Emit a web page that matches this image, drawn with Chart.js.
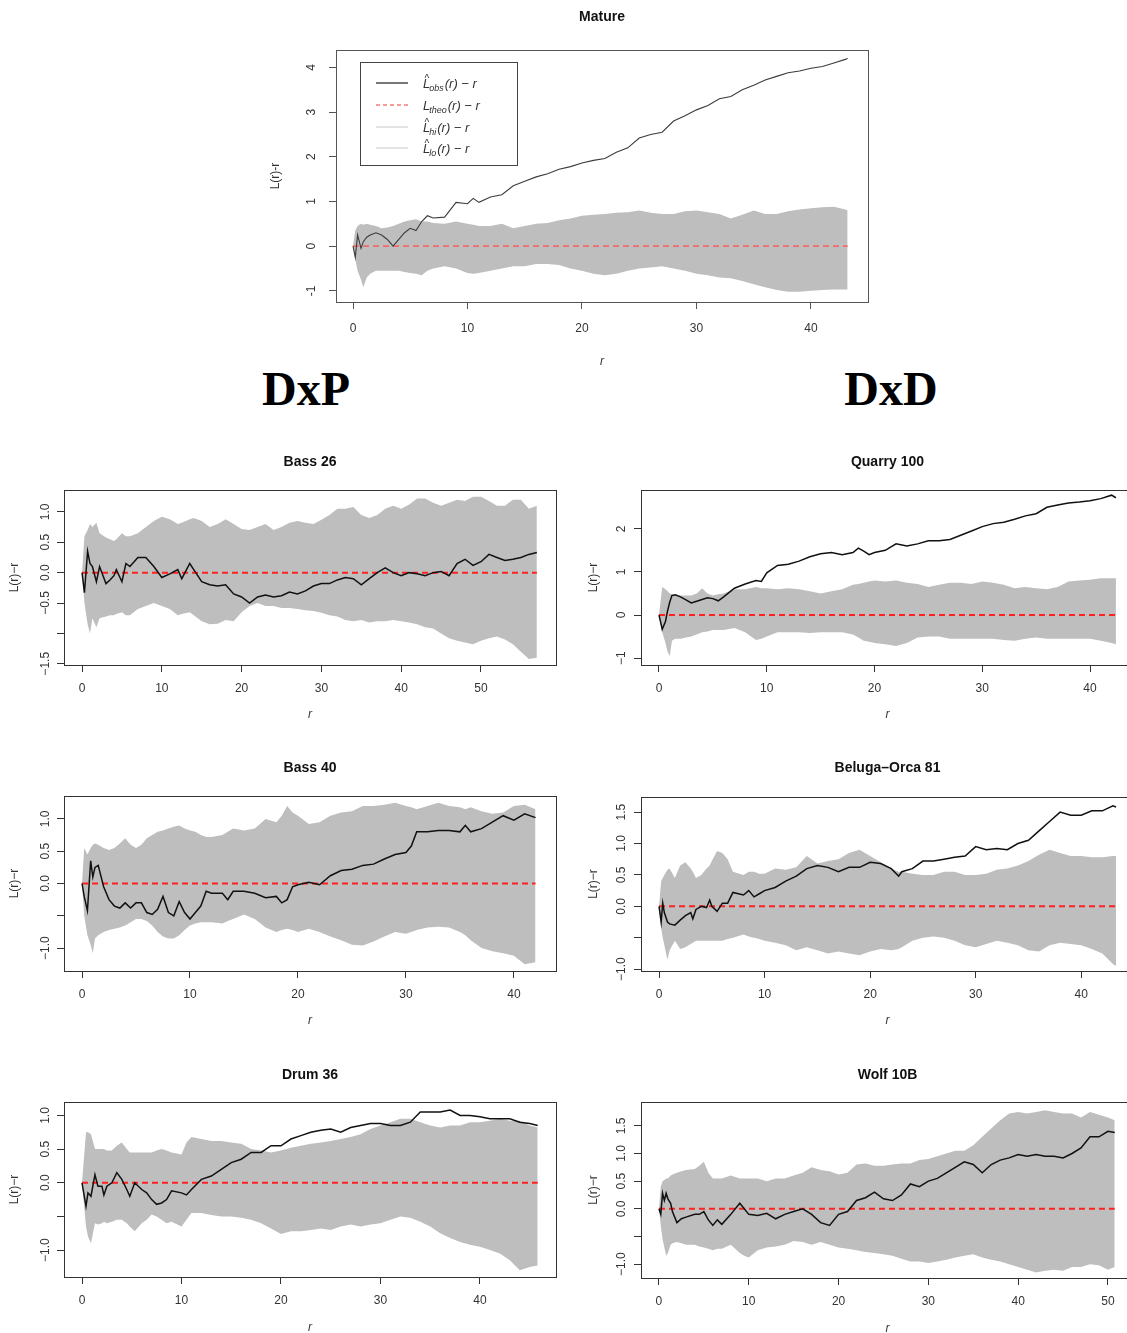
<!DOCTYPE html>
<html>
<head>
<meta charset="utf-8">
<title>L(r)-r envelopes</title>
<script src="https://cdn.jsdelivr.net/npm/chart.js@4.4.1/dist/chart.umd.min.js"></script>
<style>
  body { margin: 0; width: 1127px; height: 1333px; overflow: hidden; background: #fff; position: relative; }
  canvas { position: absolute; }
  .grp { position: absolute; top: 365px; width: 300px; text-align: center;
         font: bold 48px/48px "Liberation Serif", "Times New Roman", serif; color: #000; }
</style>
</head>
<body>
<div class="grp" style="left:156px">DxP</div>
<div class="grp" style="left:741px">DxD</div>

<script>
// === DATA ===
// Mature
const matureR = [0,0.2,0.4,0.7,0.9,1.2,1.5,2,2.5,3,3.5,4,4.5,5,5.5,6,6.5,7,8,9,10,10.5,11,
  12,13,14,15,16,17,18,19,20,21,22,23,24,25,26,27,28,29,30,31,32,33,34,35,36,37,38,39,40,41,42,43,43.2];
const matureObs = [0,-0.25,0.25,-0.05,0.1,0.2,0.25,0.3,0.25,0.15,0.0,0.15,0.3,0.4,0.35,0.55,0.68,0.63,0.65,0.98,0.95,1.07,0.98,
  1.1,1.15,1.35,1.45,1.55,1.62,1.72,1.78,1.86,1.92,1.96,2.1,2.2,2.42,2.5,2.55,2.8,2.92,3.05,3.15,3.3,3.35,3.5,3.6,3.72,3.8,3.88,3.92,3.98,4.02,4.1,4.18,4.2];
const matureHi = [0,0.35,0.45,0.5,0.48,0.5,0.48,0.45,0.4,0.42,0.45,0.5,0.55,0.58,0.6,0.55,0.55,0.52,0.5,0.55,0.5,0.48,0.45,
  0.45,0.5,0.4,0.45,0.5,0.52,0.58,0.62,0.68,0.7,0.72,0.75,0.76,0.8,0.75,0.72,0.72,0.78,0.8,0.76,0.72,0.62,0.7,0.8,0.72,0.72,0.78,0.82,0.85,0.87,0.88,0.82,0.8];
const matureLo = [0,-0.3,-0.55,-0.75,-0.92,-0.7,-0.62,-0.55,-0.55,-0.55,-0.55,-0.55,-0.58,-0.6,-0.62,-0.65,-0.55,-0.5,-0.45,-0.5,-0.6,-0.62,-0.6,
  -0.55,-0.5,-0.45,-0.45,-0.4,-0.4,-0.42,-0.5,-0.55,-0.62,-0.65,-0.62,-0.55,-0.5,-0.48,-0.45,-0.5,-0.55,-0.62,-0.65,-0.7,-0.72,-0.78,-0.85,-0.92,-0.98,-1.02,-1.02,-1.0,-0.98,-0.97,-0.97,-0.97];
const matureXTicks = [0,10,20,30,40];
const matureYTicks = [-1,0,1,2,3,4];
const matureYLabels = ['-1','0','1','2','3','4'];

// Bass 26
const bass26R = [0,0.3,0.7,1,1.3,1.8,2.2,3,3.5,4,4.3,5,5.5,6,7,8,9,10,11,12,12.5,13.5,
  14,15,16,17,18,19,20,21,22,23,24,25,26,27,28,29,30,31,32,33,34,35,36,37,38,39,40,41,42,43,44,45,46,47,48,49,50,51,52,53,54,55,56,57];
const bass26Obs = [0,-0.33,0.35,0.15,0.1,-0.15,0.1,-0.18,-0.12,-0.05,0.05,-0.15,0.15,0.1,0.25,0.25,0.1,-0.08,-0.02,0.05,-0.1,0.15,
  0.05,-0.15,-0.2,-0.22,-0.2,-0.35,-0.4,-0.5,-0.4,-0.37,-0.4,-0.38,-0.32,-0.35,-0.3,-0.22,-0.18,-0.18,-0.12,-0.08,-0.1,-0.2,-0.1,0.0,0.08,0.0,-0.05,0.0,-0.02,-0.05,0.0,0.02,-0.05,0.15,0.22,0.12,0.18,0.3,0.25,0.2,0.22,0.25,0.3,0.33];
const bass26Hi = [0,0.6,0.7,0.8,0.75,0.82,0.65,0.58,0.55,0.52,0.55,0.65,0.6,0.6,0.65,0.75,0.85,0.92,0.88,0.8,0.82,0.88,
  0.9,0.85,0.75,0.8,0.88,0.8,0.72,0.7,0.75,0.8,0.7,0.75,0.82,0.85,0.82,0.8,0.87,0.95,1.05,1.05,1.08,0.95,0.9,0.95,1.05,1.1,1.05,1.12,1.22,1.22,1.15,1.1,1.15,1.2,1.18,1.25,1.25,1.18,1.1,1.1,1.2,1.2,1.05,1.1];
const bass26Lo = [0,-0.5,-0.85,-1.0,-0.75,-0.9,-0.75,-0.72,-0.7,-0.7,-0.68,-0.65,-0.7,-0.7,-0.6,-0.55,-0.5,-0.55,-0.6,-0.7,-0.68,-0.65,
  -0.7,-0.8,-0.85,-0.84,-0.78,-0.8,-0.65,-0.55,-0.5,-0.55,-0.55,-0.58,-0.58,-0.6,-0.62,-0.63,-0.66,-0.7,-0.72,-0.78,-0.8,-0.78,-0.82,-0.8,-0.8,-0.78,-0.8,-0.82,-0.85,-0.9,-0.92,-1.0,-1.08,-1.12,-1.15,-1.18,-1.12,-1.08,-1.05,-1.1,-1.18,-1.3,-1.42,-1.4];
const bass26XTicks = [0,10,20,30,40,50];
const bass26YTicks = [-1.5,-1,-0.5,0,0.5,1];
const bass26YLabels = ['\u22121.5','','\u22120.5','0.0','0.5','1.0'];

// Quarry 100
const quarryR = [0,0.3,0.6,0.8,1,1.2,1.5,2,2.5,3,3.5,4,4.5,5,5.5,6,7,8,9,9.5,10,
  11,12,13,14,15,16,17,18,18.5,19,19.5,
  20,21,22,23,24,25,26,27,28,29,30,31,32,33,34,35,36,37,38,39,40,41,42,42.4];
const quarryObs = [0,-0.33,-0.15,0.1,0.3,0.45,0.47,0.42,0.35,0.28,0.32,0.36,0.4,0.38,0.33,0.42,0.62,0.72,0.8,0.78,0.98,
  1.15,1.18,1.25,1.35,1.42,1.45,1.4,1.45,1.55,1.48,1.4,
  1.45,1.5,1.65,1.6,1.65,1.72,1.72,1.75,1.85,1.95,2.05,2.12,2.15,2.22,2.3,2.35,2.5,2.55,2.6,2.62,2.65,2.7,2.78,2.72];
const quarryHi = [0,0.65,0.6,0.55,0.5,0.48,0.48,0.45,0.45,0.45,0.5,0.62,0.5,0.45,0.48,0.5,0.6,0.6,0.65,0.62,0.62,
  0.6,0.62,0.6,0.55,0.5,0.55,0.6,0.7,0.72,0.75,0.78,
  0.8,0.78,0.8,0.75,0.72,0.65,0.7,0.75,0.75,0.72,0.78,0.75,0.7,0.62,0.65,0.62,0.6,0.65,0.78,0.8,0.82,0.85,0.85,0.85];
const quarryLo = [0,-0.4,-0.65,-0.85,-0.95,-0.6,-0.55,-0.55,-0.52,-0.5,-0.45,-0.4,-0.38,-0.35,-0.35,-0.35,-0.3,-0.4,-0.58,-0.55,-0.5,
  -0.4,-0.4,-0.4,-0.42,-0.4,-0.4,-0.4,-0.45,-0.52,-0.6,-0.62,
  -0.65,-0.68,-0.72,-0.65,-0.52,-0.5,-0.5,-0.55,-0.55,-0.55,-0.55,-0.55,-0.58,-0.6,-0.55,-0.52,-0.55,-0.55,-0.55,-0.55,-0.55,-0.6,-0.65,-0.68];
const quarryXTicks = [0,10,20,30,40];
const quarryYTicks = [-1,0,1,2];
const quarryYLabels = ['\u22121','0','1','2'];

// Bass 40
const bass40R = [0,0.2,0.5,0.8,1,1.2,1.5,
  2,2.5,3,3.5,4,4.5,5,5.5,6,6.5,7,7.5,8,8.5,9,9.5,10,10.5,11,11.5,
  12,13,13.5,14,15,16,17,18,18.5,19,19.5,
  20,21,22,23,24,25,26,27,28,29,30,30.5,31,32,33,34,35,35.5,36,37,38,39,40,41,42];
const bass40Obs = [0,-0.2,-0.42,0.35,0.1,0.25,0.28,
  -0.05,-0.25,-0.35,-0.38,-0.3,-0.38,-0.3,-0.3,-0.45,-0.48,-0.4,-0.2,-0.45,-0.5,-0.28,-0.45,-0.55,-0.45,-0.35,-0.12,
  -0.15,-0.15,-0.25,-0.12,-0.12,-0.15,-0.22,-0.2,-0.3,-0.25,-0.05,
  -0.02,0.02,-0.02,0.12,0.2,0.22,0.28,0.3,0.38,0.45,0.48,0.58,0.8,0.8,0.82,0.82,0.8,0.9,0.8,0.85,0.95,1.05,0.98,1.08,1.02];
const bass40Hi = [0,0.55,0.45,0.55,0.6,0.62,0.6,
  0.55,0.52,0.55,0.62,0.7,0.6,0.55,0.6,0.7,0.75,0.8,0.82,0.85,0.88,0.9,0.85,0.82,0.8,0.75,0.72,
  0.72,0.75,0.8,0.85,0.82,0.85,1.0,0.95,1.05,1.2,1.1,
  1.05,0.92,0.95,1.05,1.1,1.12,1.2,1.2,1.22,1.25,1.2,1.18,1.15,1.2,1.25,1.2,1.18,1.15,1.18,1.12,1.08,1.1,1.2,1.22,1.15];
const bass40Lo = [0,-0.5,-0.8,-0.95,-1.08,-0.85,-0.8,
  -0.75,-0.72,-0.7,-0.68,-0.65,-0.6,-0.55,-0.55,-0.58,-0.65,-0.75,-0.82,-0.85,-0.85,-0.8,-0.72,-0.65,-0.62,-0.6,-0.6,
  -0.6,-0.62,-0.58,-0.55,-0.48,-0.55,-0.68,-0.75,-0.72,-0.7,-0.72,
  -0.75,-0.7,-0.75,-0.82,-0.88,-0.95,-0.96,-0.9,-0.82,-0.75,-0.78,-0.75,-0.72,-0.68,-0.67,-0.68,-0.75,-0.8,-0.88,-1.0,-1.05,-1.08,-1.12,-1.25,-1.22];
const bass40XTicks = [0,10,20,30,40];
const bass40YTicks = [-1,-0.5,0,0.5,1];
const bass40YLabels = ['\u22121.0','','0.0','0.5','1.0'];

// Beluga-Orca 81
const belugaR = [0,0.2,0.35,0.5,0.8,1,1.5,
  2,2.5,3,3.2,3.5,4,4.5,4.8,5,5.5,6,6.5,7,
  8,8.5,9,9.5,10,
  11,12,13,14,15,16,17,18,19,20,21,22,22.7,
  23,24,25,26,27,28,29,30,31,32,33,34,35,36,37,38,39,40,41,42,43,43.3];
const belugaObs = [0,-0.25,0.05,-0.1,-0.25,-0.28,-0.3,
  -0.22,-0.15,-0.1,-0.2,-0.05,0.0,-0.02,0.1,0.0,-0.08,0.05,0.05,0.22,
  0.18,0.25,0.15,0.2,0.25,
  0.3,0.4,0.48,0.6,0.65,0.62,0.55,0.62,0.62,0.7,0.68,0.6,0.48,
  0.55,0.6,0.72,0.72,0.75,0.78,0.8,0.95,0.9,0.92,0.9,1.0,1.05,1.2,1.35,1.5,1.45,1.45,1.52,1.52,1.6,1.58];
const belugaHi = [0,0.4,0.45,0.5,0.58,0.6,0.45,
  0.65,0.7,0.6,0.55,0.45,0.5,0.6,0.65,0.72,0.88,0.85,0.75,0.55,
  0.5,0.55,0.55,0.52,0.52,
  0.6,0.58,0.62,0.8,0.68,0.72,0.75,0.85,0.9,0.8,0.7,0.6,0.55,
  0.55,0.52,0.5,0.5,0.55,0.55,0.5,0.5,0.52,0.58,0.6,0.65,0.72,0.82,0.9,0.85,0.8,0.8,0.78,0.78,0.8,0.8];
const belugaLo = [0,-0.35,-0.5,-0.62,-0.85,-0.7,-0.55,
  -0.68,-0.65,-0.6,-0.58,-0.55,-0.55,-0.55,-0.55,-0.55,-0.55,-0.55,-0.52,-0.5,
  -0.45,-0.48,-0.5,-0.52,-0.55,
  -0.58,-0.62,-0.7,-0.65,-0.7,-0.75,-0.72,-0.75,-0.78,-0.72,-0.68,-0.7,-0.68,
  -0.65,-0.55,-0.5,-0.48,-0.5,-0.55,-0.62,-0.65,-0.6,-0.55,-0.58,-0.62,-0.7,-0.72,-0.62,-0.58,-0.6,-0.62,-0.68,-0.75,-0.92,-0.95];
const belugaXTicks = [0,10,20,30,40];
const belugaYTicks = [-1,-0.5,0,0.5,1,1.5];
const belugaYLabels = ['\u22121.0','','0.0','0.5','1.0','1.5'];

// Drum 36
const drumR = [0,0.4,0.6,0.9,1.3,1.6,
  2,2.2,2.5,3,3.5,4,4.5,4.8,5.3,6,6.5,7,7.5,8,8.5,9,
  10,10.5,11,
  12,13,14,15,16,17,18,19,20,21,22,23,24,25,26,27,28,29,30,31,32,33,34,35,36,37,38,39,40,41,42,43,44,45,45.8];
const drumObs = [0,-0.35,-0.15,-0.2,0.12,-0.05,
  -0.05,-0.18,-0.05,0.0,0.15,0.05,-0.1,-0.2,0.0,-0.1,-0.15,-0.25,-0.32,-0.3,-0.25,-0.12,
  -0.15,-0.18,-0.1,
  0.05,0.1,0.2,0.3,0.35,0.45,0.45,0.55,0.55,0.65,0.7,0.75,0.78,0.8,0.75,0.82,0.85,0.88,0.88,0.85,
  0.85,0.9,1.05,1.05,1.05,1.08,1.0,1.0,0.98,0.95,0.95,0.95,0.9,0.88,0.85];
const drumHi = [0,0.75,0.75,0.72,0.5,0.5,
  0.5,0.5,0.48,0.48,0.55,0.6,0.5,0.45,0.45,0.45,0.45,0.45,0.48,0.5,0.48,0.45,
  0.42,0.6,0.68,
  0.65,0.62,0.62,0.6,0.58,0.5,0.48,0.45,0.48,0.52,0.55,0.58,0.6,0.62,0.65,0.68,0.72,0.8,0.85,0.9,
  0.95,0.95,0.9,0.85,0.82,0.85,0.85,0.9,0.9,0.92,0.95,0.92,0.92,0.85,0.82];
const drumLo = [0,-0.65,-0.8,-0.9,-0.6,-0.62,
  -0.6,-0.58,-0.6,-0.58,-0.55,-0.55,-0.6,-0.65,-0.72,-0.6,-0.55,-0.47,-0.5,-0.55,-0.6,-0.58,
  -0.65,-0.55,-0.45,
  -0.45,-0.48,-0.5,-0.5,-0.52,-0.55,-0.6,-0.68,-0.76,-0.72,-0.72,-0.7,-0.68,-0.7,-0.65,-0.62,-0.65,-0.62,-0.6,-0.55,
  -0.5,-0.52,-0.58,-0.65,-0.75,-0.82,-0.88,-0.92,-0.95,-1.0,-1.05,-1.15,-1.3,-1.25,-1.23];
const drumXTicks = [0,10,20,30,40];
const drumYTicks = [-1,-0.5,0,0.5,1];
const drumYLabels = ['\u22121.0','','0.0','0.5','1.0'];

// Wolf 10B
const wolfR = [0,0.2,0.4,0.6,0.8,1,1.3,1.5,
  2,2.5,3,4,4.5,5,5.5,6,6.5,7,8,9,9.5,
  10,11,12,13,14,15,16,17,18,19,20,21,22,23,24,25,26,27,28,29,30,31,32,33,34,35,36,37,38,39,40,41,42,43,44,45,46,47,48,49,50,50.75];
const wolfObs = [0,-0.1,0.28,0.15,0.28,0.18,0.1,-0.05,
  -0.25,-0.18,-0.15,-0.1,-0.1,-0.05,-0.2,-0.3,-0.2,-0.28,-0.1,0.1,0.0,
  -0.1,-0.12,-0.08,-0.18,-0.1,-0.05,0.0,-0.1,-0.25,-0.3,
  -0.1,-0.05,0.15,0.2,0.3,0.18,0.15,0.25,0.45,0.4,
  0.5,0.55,0.65,0.75,0.85,0.8,0.65,0.8,0.88,0.92,
  0.98,0.95,0.98,0.95,0.95,0.92,1.0,1.1,1.3,1.3,1.4,1.38];
const wolfHi = [0,0.4,0.5,0.52,0.55,0.55,0.6,0.62,
  0.65,0.68,0.7,0.72,0.78,0.85,0.65,0.55,0.55,0.55,0.6,0.55,0.55,
  0.55,0.55,0.5,0.55,0.55,0.6,0.65,0.75,0.7,0.68,
  0.62,0.65,0.8,0.82,0.78,0.78,0.8,0.82,0.82,0.88,
  0.9,0.95,1.0,1.05,1.05,1.15,1.3,1.45,1.6,1.72,
  1.75,1.72,1.75,1.78,1.75,1.72,1.72,1.65,1.75,1.7,1.65,1.6];
const wolfLo = [0,-0.3,-0.55,-0.7,-0.85,-0.8,-0.65,-0.62,
  -0.6,-0.62,-0.65,-0.65,-0.68,-0.7,-0.72,-0.75,-0.72,-0.72,-0.65,-0.8,-0.85,
  -0.88,-0.75,-0.7,-0.68,-0.65,-0.58,-0.6,-0.65,-0.6,-0.65,
  -0.7,-0.72,-0.75,-0.78,-0.8,-0.82,-0.85,-0.9,-0.95,-0.95,
  -0.98,-0.95,-0.92,-0.88,-0.85,-0.82,-0.88,-0.92,-0.95,-1.0,
  -1.05,-1.1,-1.15,-1.12,-1.1,-1.12,-1.05,-1.05,-1.0,-1.02,-1.1,-1.05];
const wolfXTicks = [0,10,20,30,40,50];
const wolfYTicks = [-1,-0.5,0,0.5,1,1.5];
const wolfYLabels = ['\u22121.0','','0.0','0.5','1.0','1.5'];

// === PANELS (layout) ===
const FONT = '"Liberation Sans", Arial, Helvetica, sans-serif';
const panels = [
  { title: 'Mature', ylab: 'L(r)-r', r: matureR, obs: matureObs, hi: matureHi, lo: matureLo,
    xTicks: matureXTicks, yTicks: matureYTicks, yLabels: matureYLabels,
    box: [336, 50, 868, 302], xr: [-1.485, 44.98], yr: [-1.25, 4.39],
    titleGap: 33, yTitleDist: 60, yLabelGap: 24, xTitleGap: 60, xLabelPad: 12, mature: true },
  { title: 'Bass 26', ylab: 'L(r)\u2212r', r: bass26R, obs: bass26Obs, hi: bass26Hi, lo: bass26Lo,
    xTicks: bass26XTicks, yTicks: bass26YTicks, yLabels: bass26YLabels,
    box: [64, 490, 556, 665], xr: [-2.26, 59.4], yr: [-1.52, 1.36],
    titleGap: 28, yTitleDist: 49, yLabelGap: 18, xTitleGap: 50, xLabelPad: 9 },
  { title: 'Quarry 100', ylab: 'L(r)\u2212r', r: quarryR, obs: quarryObs, hi: quarryHi, lo: quarryLo,
    xTicks: quarryXTicks, yTicks: quarryYTicks, yLabels: quarryYLabels,
    box: [641, 490, 1134, 665], xr: [-1.67, 44.08], yr: [-1.16, 2.9],
    titleGap: 28, yTitleDist: 47, yLabelGap: 19, xTitleGap: 50, xLabelPad: 9 },
  { title: 'Bass 40', ylab: 'L(r)\u2212r', r: bass40R, obs: bass40Obs, hi: bass40Hi, lo: bass40Lo,
    xTicks: bass40XTicks, yTicks: bass40YTicks, yLabels: bass40YLabels,
    box: [64, 796, 556, 971], xr: [-1.67, 43.9], yr: [-1.355, 1.355],
    titleGap: 28, yTitleDist: 49, yLabelGap: 18, xTitleGap: 50, xLabelPad: 9 },
  { title: 'Beluga\u2013Orca 81', ylab: 'L(r)\u2212r', r: belugaR, obs: belugaObs, hi: belugaHi, lo: belugaLo,
    xTicks: belugaXTicks, yTicks: belugaYTicks, yLabels: belugaYLabels,
    box: [641, 797, 1134, 971], xr: [-1.71, 45.0], yr: [-1.03, 1.74],
    titleGap: 29, yTitleDist: 47, yLabelGap: 19, xTitleGap: 50, xLabelPad: 9 },
  { title: 'Drum 36', ylab: 'L(r)\u2212r', r: drumR, obs: drumObs, hi: drumHi, lo: drumLo,
    xTicks: drumXTicks, yTicks: drumYTicks, yLabels: drumYLabels,
    box: [64, 1102, 556, 1277], xr: [-1.81, 47.64], yr: [-1.4, 1.2],
    titleGap: 27, yTitleDist: 49, yLabelGap: 18, xTitleGap: 51, xLabelPad: 9 },
  { title: 'Wolf 10B', ylab: 'L(r)\u2212r', r: wolfR, obs: wolfObs, hi: wolfHi, lo: wolfLo,
    xTicks: wolfXTicks, yTicks: wolfYTicks, yLabels: wolfYLabels,
    box: [641, 1102, 1134, 1278], xr: [-2.0, 52.9], yr: [-1.25, 1.93],
    titleGap: 27, yTitleDist: 47, yLabelGap: 19, xTitleGap: 51, xLabelPad: 9 }
];

// legend label like  L^_obs(r) - r
function legendLabel(ctx, x, y, sub, hat) {
  const base = y + 5;
  ctx.textAlign = 'left';
  ctx.textBaseline = 'alphabetic';
  ctx.font = 'italic 13px ' + FONT;
  ctx.fillText('L', x, base);
  const wL = ctx.measureText('L').width;
  if (hat) {
    ctx.font = '10px ' + FONT;
    ctx.fillText('^', x + 1.5, base - 6);
  }
  ctx.font = 'italic 9px ' + FONT;
  ctx.fillText(sub, x + wL - 1, base + 3);
  const wS = ctx.measureText(sub).width;
  ctx.font = 'italic 13px ' + FONT;
  ctx.fillText('(r) \u2212 r', x + wL - 1 + wS + 1, base);
}

function drawLegend(ctx, a) {
  const l = a.left + 24, t = a.top + 12;
  ctx.strokeStyle = '#444';
  ctx.lineWidth = 1;
  ctx.strokeRect(Math.round(l) + 0.5, Math.round(t) + 0.5, 157, 103);
  const rows = [
    { y: 33, color: '#555', dash: [], sub: 'obs', hat: true },
    { y: 55, color: '#f47a7a', dash: [4, 3], sub: 'theo', hat: false },
    { y: 77, color: '#dddddd', dash: [], sub: 'hi', hat: true },
    { y: 98, color: '#dddddd', dash: [], sub: 'lo', hat: true }
  ];
  rows.forEach(row => {
    const y = a.top + row.y;
    ctx.beginPath();
    ctx.setLineDash(row.dash);
    ctx.strokeStyle = row.color;
    ctx.lineWidth = 1.6;
    ctx.moveTo(a.left + 40, y);
    ctx.lineTo(a.left + 72, y);
    ctx.stroke();
    ctx.setLineDash([]);
    ctx.fillStyle = '#333';
    legendLabel(ctx, a.left + 87, y, row.sub, row.hat);
  });
}

function makeChart(p, idx) {
  const [bl, bt, br, bb] = p.box;
  const L = 70, T = 50, R = 10, B = 70;
  const cv = document.createElement('canvas');
  cv.width = (br - bl) + L + R;
  cv.height = (bb - bt) + T + B;
  cv.style.left = (bl - L) + 'px';
  cv.style.top = (bt - T) + 'px';
  document.body.appendChild(cv);

  const end = p.r[p.r.length - 1];
  const pts = ys => p.r.map((x, i) => ({ x: x, y: ys[i] }));
  const axisCol = p.mature ? '#555' : '#333';

  const frame = {
    id: 'rFrame' + idx,
    afterDraw(chart) {
      const { ctx, chartArea: a, scales } = chart;
      ctx.save();
      ctx.strokeStyle = axisCol;
      ctx.lineWidth = 1;
      ctx.strokeRect(Math.round(a.left) + 0.5, Math.round(a.top) + 0.5,
                     Math.round(a.right - a.left), Math.round(a.bottom - a.top));
      // title
      ctx.fillStyle = '#111';
      ctx.font = 'bold 14px ' + FONT;
      ctx.textAlign = 'center';
      ctx.textBaseline = 'middle';
      ctx.fillText(p.title, (a.left + a.right) / 2, a.top - p.titleGap);
      // rotated y tick labels, R style
      ctx.font = '12px ' + FONT;
      ctx.fillStyle = '#333';
      p.yTicks.forEach((v, i) => {
        const y = scales.y.getPixelForValue(v);
        ctx.save();
        ctx.translate(a.left - p.yLabelGap, y);
        ctx.rotate(-Math.PI / 2);
        ctx.fillText(p.yLabels[i], 0, 0);
        ctx.restore();
      });
      if (p.mature) drawLegend(ctx, a);
      ctx.restore();
    }
  };

  new Chart(cv, {
    type: 'line',
    data: {
      datasets: [
        { data: pts(p.obs), borderColor: p.mature ? '#3c3c3c' : '#111', borderWidth: p.mature ? 1.1 : 1.5, order: 0 },
        { data: [{ x: 0, y: 0 }, { x: end, y: 0 }], borderColor: p.mature ? '#f26a6a' : '#ff2020',
          borderWidth: p.mature ? 1.6 : 2, borderDash: [6, 4], order: 1 },
        { data: pts(p.hi), borderWidth: 0, borderColor: 'rgba(0,0,0,0)', backgroundColor: '#bebebe', fill: '+1', order: 2 },
        { data: pts(p.lo), borderWidth: 0, borderColor: 'rgba(0,0,0,0)', fill: false, order: 3 }
      ]
    },
    options: {
      responsive: false,
      animation: false,
      events: [],
      layout: { padding: { top: T, right: R, left: 0, bottom: 0 } },
      elements: { point: { radius: 0 }, line: { tension: 0 } },
      plugins: { legend: { display: false }, tooltip: { enabled: false }, title: { display: false } },
      scales: {
        x: {
          type: 'linear', min: p.xr[0], max: p.xr[1],
          border: { display: false },
          grid: { drawOnChartArea: false, drawTicks: true, tickLength: 7, color: axisCol },
          ticks: { font: { family: FONT, size: 12 }, color: '#333', padding: p.xLabelPad, maxRotation: 0, autoSkip: false },
          afterBuildTicks: s => { s.ticks = p.xTicks.map(v => ({ value: v })); },
          afterFit: s => { s.height = B; },
          title: { display: true, text: 'r', color: '#333',
                   font: { family: FONT, size: 12, style: 'italic', lineHeight: '14px' },
                   padding: { top: 0, bottom: B - p.xTitleGap - 7 } }
        },
        y: {
          type: 'linear', min: p.yr[0], max: p.yr[1],
          border: { display: false },
          grid: { drawOnChartArea: false, drawTicks: true, tickLength: 7, color: axisCol },
          ticks: { display: false },
          afterBuildTicks: s => { s.ticks = p.yTicks.map(v => ({ value: v })); },
          afterFit: s => { s.width = L; },
          title: { display: true, text: p.ylab, color: '#333',
                   font: { family: FONT, size: 12, lineHeight: '14px' },
                   padding: { top: L - p.yTitleDist - 7, bottom: 0 } }
        }
      }
    },
    plugins: [frame]
  });
}

panels.forEach(makeChart);
</script>
</body>
</html>
